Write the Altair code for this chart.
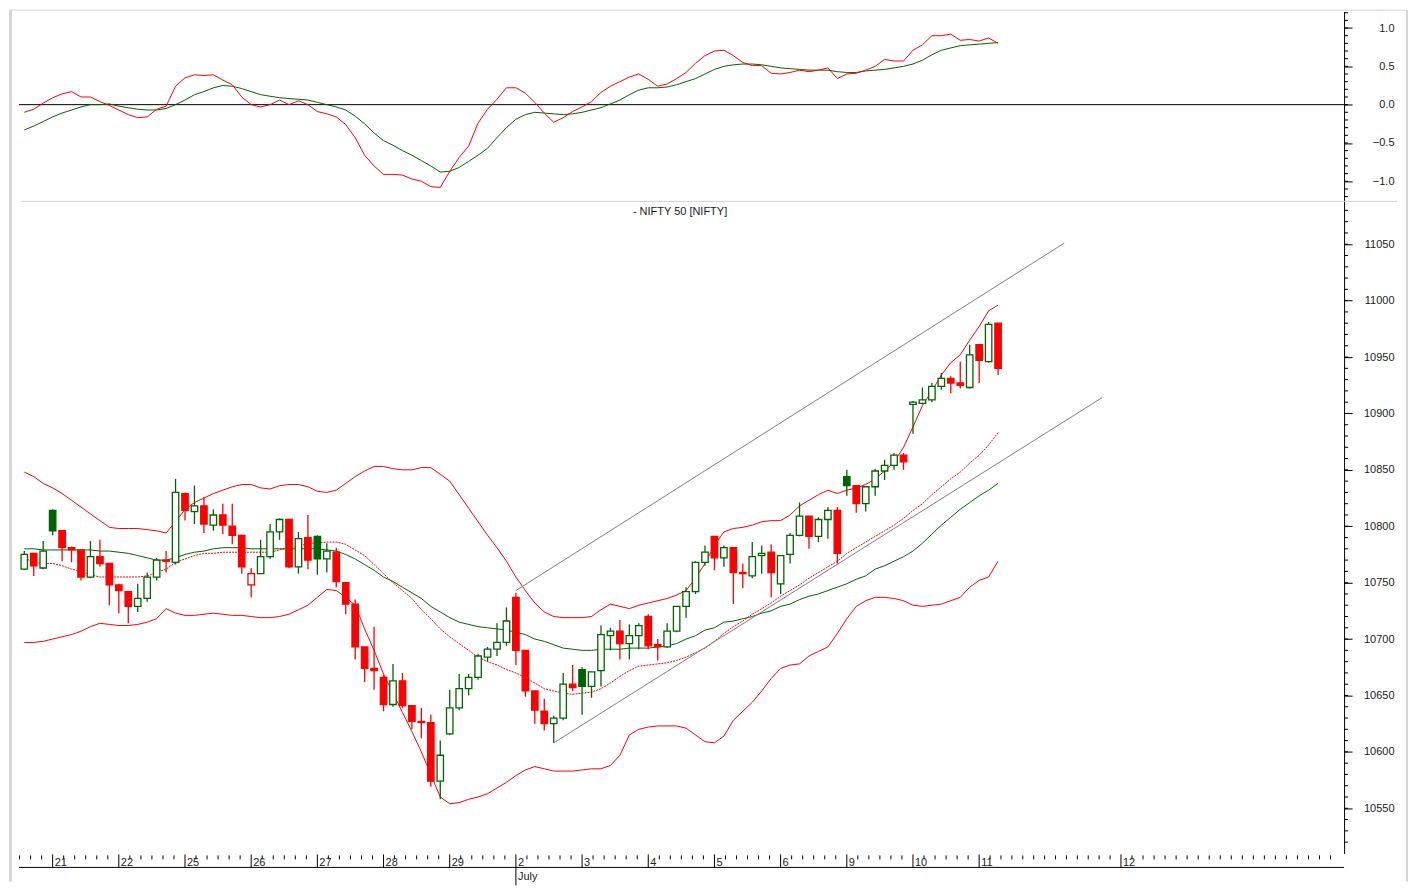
import altair as alt
import pandas as pd
import numpy as np

# ---------------- data (hourly NIFTY 50 bars, 20 Jun - 11 Jul) ----------------
opens = [10762, 10776, 10763, 10814, 10796, 10781, 10779, 10755, 10773, 10767,
         10748, 10742, 10729, 10736, 10755, 10770, 10768, 10829, 10813, 10818,
         10801, 10810, 10800, 10792, 10748, 10758, 10773, 10795, 10806, 10764,
         10790, 10791, 10771, 10777, 10750, 10731, 10693, 10674, 10666, 10642,
         10663, 10641, 10627, 10626, 10574, 10616, 10639, 10656, 10666, 10684,
         10691, 10697, 10737, 10690, 10654, 10636, 10625, 10630, 10660, 10673,
         10658, 10672, 10703, 10707, 10696, 10703, 10720, 10695, 10693, 10707,
         10729, 10742, 10768, 10791, 10772, 10781, 10759, 10756, 10774, 10777,
         10749, 10775, 10792, 10809, 10791, 10806, 10814, 10844, 10836, 10820,
         10835, 10849, 10854, 10863, 10908, 10909, 10912, 10924, 10931, 10927,
         10923, 10961, 10946, 10980]
highs = [10778, 10776, 10787, 10815, 10796, 10782, 10779, 10787, 10788, 10767,
         10749, 10742, 10749, 10759, 10772, 10778, 10842, 10830, 10836, 10826,
         10815, 10820, 10820, 10792, 10763, 10788, 10802, 10807, 10806, 10795,
         10810, 10792, 10785, 10781, 10750, 10735, 10693, 10711, 10668, 10678,
         10670, 10641, 10639, 10633, 10610, 10655, 10669, 10669, 10687, 10693,
         10714, 10728, 10741, 10690, 10654, 10647, 10632, 10670, 10677, 10675,
         10671, 10712, 10710, 10717, 10713, 10714, 10722, 10700, 10714, 10729,
         10746, 10769, 10783, 10791, 10783, 10781, 10767, 10786, 10783, 10784,
         10774, 10794, 10821, 10809, 10808, 10817, 10817, 10850, 10836, 10835,
         10851, 10859, 10865, 10865, 10911, 10923, 10927, 10936, 10933, 10946,
         10961, 10961, 10981, 10980]
lows = [10761, 10756, 10762, 10792, 10769, 10768, 10752, 10754, 10764, 10730,
        10723, 10714, 10724, 10733, 10752, 10759, 10766, 10805, 10802, 10794,
        10796, 10793, 10784, 10758, 10737, 10758, 10771, 10788, 10763, 10758,
        10762, 10757, 10759, 10746, 10722, 10682, 10662, 10655, 10636, 10640,
        10639, 10620, 10612, 10569, 10558, 10615, 10637, 10650, 10664, 10680,
        10685, 10694, 10677, 10649, 10625, 10619, 10608, 10628, 10654, 10633,
        10648, 10658, 10690, 10682, 10682, 10691, 10691, 10681, 10692, 10706,
        10719, 10740, 10765, 10761, 10764, 10731, 10745, 10754, 10758, 10737,
        10740, 10767, 10791, 10780, 10786, 10789, 10767, 10827, 10812, 10813,
        10827, 10841, 10850, 10850, 10882, 10908, 10910, 10921, 10918, 10922,
        10922, 10927, 10945, 10934]
closes = [10775, 10765, 10778, 10796, 10781, 10779, 10755, 10773, 10767, 10748,
          10743, 10729, 10736, 10755, 10770, 10769, 10830, 10814, 10818, 10802,
          10810, 10801, 10792, 10764, 10758, 10773, 10795, 10806, 10764, 10789,
          10770, 10771, 10778, 10751, 10731, 10693, 10674, 10672, 10642, 10663,
          10641, 10627, 10626, 10574, 10597, 10639, 10656, 10666, 10685, 10691,
          10697, 10716, 10690, 10654, 10637, 10625, 10630, 10660, 10657, 10658,
          10671, 10704, 10707, 10696, 10703, 10712, 10694, 10693, 10707, 10729,
          10742, 10768, 10777, 10772, 10781, 10759, 10758, 10773, 10776, 10759,
          10774, 10792, 10809, 10791, 10806, 10814, 10776, 10836, 10820, 10835,
          10849, 10854, 10863, 10857, 10910, 10912, 10924, 10931, 10927, 10925,
          10952, 10947, 10979, 10940]

bb_upper = [10848, 10844, 10838, 10834, 10829, 10823, 10817, 10811, 10805, 10799,
            10798, 10798, 10798, 10797, 10796, 10794, 10804, 10815, 10821, 10825,
            10829, 10832, 10835, 10837, 10837, 10834, 10833, 10836, 10837, 10837,
            10835, 10831, 10830, 10832, 10838, 10844, 10849, 10853, 10853, 10851,
            10850, 10850, 10852, 10852, 10846, 10840, 10828, 10816, 10804, 10792,
            10781, 10769, 10755, 10743, 10732, 10724, 10720, 10719, 10719, 10719,
            10720, 10726, 10731, 10729, 10727, 10730, 10732, 10734, 10736, 10739,
            10743, 10754, 10767, 10783, 10795, 10798, 10799, 10801, 10804, 10805,
            10805, 10810, 10818, 10823, 10828, 10832, 10829, 10832, 10834, 10837,
            10842, 10849, 10857, 10870, 10888, 10907, 10920, 10934, 10945, 10952,
            10965, 10977, 10991, 10996]
bb_middle = [10780, 10780, 10779, 10779, 10779, 10779, 10779, 10779, 10778, 10778,
             10777, 10776, 10774, 10772, 10770, 10770, 10772, 10775, 10777, 10778,
             10780, 10781, 10781, 10781, 10780, 10780, 10780, 10780, 10780, 10780,
             10780, 10780, 10779, 10778, 10775, 10771, 10766, 10761, 10755, 10751,
             10746, 10741, 10736, 10729, 10724, 10719, 10715, 10713, 10711, 10710,
             10709, 10708, 10706, 10704, 10700, 10698, 10695, 10692, 10691, 10690,
             10690, 10691, 10691, 10691, 10692, 10692, 10692, 10693, 10694, 10696,
             10700, 10703, 10708, 10710, 10715, 10716, 10718, 10720, 10723, 10725,
             10729, 10731, 10735, 10738, 10740, 10743, 10746, 10749, 10753, 10756,
             10762, 10765, 10769, 10773, 10778, 10785, 10793, 10801, 10808, 10815,
             10821, 10827, 10832, 10838]
bb_lower = [10697, 10697, 10698, 10700, 10702, 10704, 10707, 10711, 10714, 10713,
            10712, 10712, 10713, 10715, 10718, 10727, 10723, 10721, 10721, 10722,
            10723, 10722, 10721, 10721, 10720, 10719, 10719, 10720, 10722, 10726,
            10730, 10737, 10744, 10743, 10737, 10730, 10709, 10690, 10669, 10652,
            10635, 10618, 10600, 10580, 10560, 10554, 10555, 10558, 10560, 10563,
            10568, 10573, 10579, 10584, 10587, 10585, 10583, 10583, 10583, 10584,
            10585, 10585, 10588, 10597, 10615, 10620, 10622, 10623, 10623, 10623,
            10621, 10615, 10609, 10608, 10614, 10628, 10636, 10644, 10654, 10665,
            10674, 10677, 10678, 10685, 10689, 10693, 10705, 10718, 10729, 10734,
            10737, 10737, 10736, 10734, 10730, 10729, 10730, 10731, 10734, 10737,
            10746, 10752, 10755, 10769]
ma_dotted = [10772, 10768, 10767, 10767, 10765, 10762, 10760, 10757, 10755, 10755,
             10755, 10755, 10755, 10756, 10759, 10762, 10768, 10771, 10774, 10776,
             10776, 10777, 10777, 10777, 10777, 10777, 10777, 10779, 10781, 10782,
             10785, 10785, 10786, 10786, 10784, 10779, 10774, 10766, 10758, 10750,
             10743, 10736, 10726, 10718, 10709, 10702, 10696, 10690, 10684, 10680,
             10677, 10673, 10670, 10666, 10661, 10656, 10654, 10652, 10651, 10652,
             10653, 10656, 10661, 10667, 10672, 10676, 10677, 10678, 10679, 10681,
             10684, 10688, 10692, 10698, 10705, 10711, 10716, 10722, 10727, 10732,
             10738, 10743, 10748, 10754, 10759, 10764, 10769, 10776, 10781, 10786,
             10791, 10796, 10801, 10807, 10814, 10820, 10828, 10835, 10842, 10848,
             10856, 10863, 10872, 10883]

osc_fast = [-0.10, -0.06, 0.02, 0.09, 0.14, 0.17, 0.10, 0.10, 0.04, -0.01,
            -0.07, -0.13, -0.17, -0.16, -0.06, -0.02, 0.24, 0.35, 0.39, 0.38,
            0.39, 0.32, 0.26, 0.10, 0.00, -0.03, 0.00, 0.06, 0.00, 0.05,
            0.00, -0.09, -0.12, -0.16, -0.26, -0.43, -0.66, -0.80, -0.91, -0.91,
            -0.92, -0.97, -1.00, -1.07, -1.08, -0.87, -0.69, -0.54, -0.24, -0.06,
            0.07, 0.22, 0.22, 0.15, 0.03, -0.11, -0.23, -0.17, -0.09, -0.03,
            0.04, 0.16, 0.24, 0.30, 0.36, 0.40, 0.33, 0.24, 0.27, 0.34,
            0.42, 0.54, 0.64, 0.70, 0.71, 0.64, 0.55, 0.51, 0.51, 0.41,
            0.40, 0.42, 0.45, 0.43, 0.45, 0.48, 0.34, 0.40, 0.41, 0.45,
            0.50, 0.59, 0.57, 0.57, 0.71, 0.78, 0.90, 0.90, 0.92, 0.84,
            0.85, 0.83, 0.87, 0.80]
osc_slow = [-0.33, -0.28, -0.22, -0.16, -0.11, -0.07, -0.03, 0.00, 0.00, 0.01,
            -0.02, -0.04, -0.06, -0.07, -0.07, -0.05, 0.00, 0.06, 0.13, 0.17,
            0.22, 0.25, 0.24, 0.21, 0.17, 0.13, 0.11, 0.09, 0.08, 0.07,
            0.06, 0.03, 0.00, -0.03, -0.07, -0.15, -0.25, -0.37, -0.47, -0.53,
            -0.60, -0.66, -0.73, -0.80, -0.88, -0.87, -0.82, -0.74, -0.66, -0.57,
            -0.43, -0.30, -0.19, -0.13, -0.10, -0.11, -0.12, -0.13, -0.12, -0.10,
            -0.07, -0.04, 0.01, 0.06, 0.13, 0.19, 0.22, 0.22, 0.23, 0.26,
            0.30, 0.34, 0.40, 0.46, 0.50, 0.52, 0.53, 0.53, 0.52, 0.50,
            0.48, 0.47, 0.46, 0.45, 0.45, 0.45, 0.43, 0.42, 0.42, 0.44,
            0.45, 0.46, 0.48, 0.50, 0.53, 0.58, 0.65, 0.71, 0.74, 0.77,
            0.78, 0.79, 0.80, 0.81]

# trend channel drawn on the chart (bar index, price)
channel_upper_bar = [52, 110]
channel_upper_price = [10743, 11051]
channel_lower_bar = [56, 114]
channel_lower_price = [10608, 10914]

# session labels on the time axis (first hourly bar of each day)
day_labels = ["21", "22", "25", "26", "27", "28", "29", "2", "3", "4",
              "5", "6", "9", "10", "11", "12"]
day_first_bar = [3, 10, 17, 24, 31, 38, 45, 52, 59, 66, 73, 80, 87, 94, 101, 116]
month_labels = ["July"]
month_first_bar = [52]

price_ticks = [10550, 10600, 10650, 10700, 10750, 10800, 10850, 10900, 10950, 11000, 11050]
osc_ticks = [-1.0, -0.5, 0.0, 0.5, 1.0]
chart_title = "- NIFTY 50 [NIFTY]"

# ---------------- styling / geometry ----------------
W = 1327
H_OSC = 190
H_PRICE = 653
XDOM = [-0.56, 139.6]
PDOM = [10510, 11088]
ODOM = [-1.262, 1.214]
RED = "#ff0000"
GREEN = "#006400"
GRAY = "#808080"
FRAME = "#d6d6d6"
FONT = "Liberation Sans"
BARS_PER_DAY = 7
MINOR_PER_DAY = 6

n = len(opens)
df = pd.DataFrame({"bar": list(range(n)), "open": opens, "high": highs,
                   "low": lows, "close": closes})
prev_close = df["close"].shift(1).fillna(df["open"])
df["tone"] = np.where(df["close"] >= prev_close, GREEN, RED)
df["bodyfill"] = np.where(df["close"] >= df["open"], "#ffffff", df["tone"])
df["blo"] = df[["open", "close"]].min(axis=1)
df["bhi"] = df[["open", "close"]].max(axis=1)

lines = pd.DataFrame({"bar": list(range(n)), "upper": bb_upper, "middle": bb_middle,
                      "lower": bb_lower, "dotted": ma_dotted,
                      "fast": osc_fast, "slow": osc_slow})

xs = alt.Scale(domain=XDOM, nice=False, zero=False)
ps = alt.Scale(domain=PDOM, nice=False, zero=False)
os_ = alt.Scale(domain=ODOM, nice=False, zero=False)

def yaxis(values, fmt):
    return alt.Axis(orient="right", values=values, format=fmt, title=None, grid=False,
                    tickSize=8, tickColor="black", domainColor="black",
                    labelAlign="right", labelPadding=42, labelFont=FONT,
                    labelFontSize=11, labelColor="#222222", labelBaseline="middle")

PAX = yaxis(price_ticks, "d")
OAX = yaxis(osc_ticks, ".1f")
X = lambda f: alt.X(f, scale=xs, axis=None)
YP = lambda f: alt.Y(f, scale=ps, axis=PAX)
YO = lambda f: alt.Y(f, scale=os_, axis=OAX)

# ---------------- oscillator panel ----------------
zero = alt.Chart(pd.DataFrame({"z": [0.0]})).mark_rule(color="black", strokeWidth=1).encode(
    y=YO("z:Q"))
slow_line = alt.Chart(lines).mark_line(color=GREEN, strokeWidth=1).encode(
    x=X("bar:Q"), y=YO("slow:Q"))
fast_line = alt.Chart(lines).mark_line(color=RED, strokeWidth=1).encode(
    x=X("bar:Q"), y=YO("fast:Q"))
osc_minor = pd.DataFrame({"v": [round(v, 1) for v in np.arange(-1.2, 1.21, 0.1)]})
osc_minor_ticks = alt.Chart(osc_minor).mark_rule(color="black").encode(
    y=YO("v:Q"), x=alt.value(W), x2=alt.value(W + 4))
osc_panel = alt.layer(zero, slow_line, fast_line, osc_minor_ticks).properties(
    width=W, height=H_OSC)

# ---------------- price panel ----------------
separator = alt.Chart(pd.DataFrame({"a": [0]})).mark_rule(color="#cfcfcf").encode(
    x=alt.value(2), x2=alt.value(1380), y=alt.value(0))
up_band = alt.Chart(lines).mark_line(color=RED, strokeWidth=1).encode(x=X("bar:Q"), y=YP("upper:Q"))
lo_band = alt.Chart(lines).mark_line(color=RED, strokeWidth=1).encode(x=X("bar:Q"), y=YP("lower:Q"))
mid_band = alt.Chart(lines).mark_line(color=GREEN, strokeWidth=1).encode(x=X("bar:Q"), y=YP("middle:Q"))
dot_line = alt.Chart(lines).mark_line(color=RED, strokeWidth=1, strokeDash=[2, 1]).encode(
    x=X("bar:Q"), y=YP("dotted:Q"))
ch_up = alt.Chart(pd.DataFrame({"bar": channel_upper_bar, "p": channel_upper_price})).mark_line(
    color=GRAY, strokeWidth=1).encode(x=X("bar:Q"), y=YP("p:Q"))
ch_lo = alt.Chart(pd.DataFrame({"bar": channel_lower_bar, "p": channel_lower_price})).mark_line(
    color=GRAY, strokeWidth=1).encode(x=X("bar:Q"), y=YP("p:Q"))
wicks = alt.Chart(df).mark_rule(strokeWidth=1.3).encode(
    x=X("bar:Q"), y=YP("low:Q"), y2="high:Q", color=alt.Color("tone:N", scale=None))
bodies = alt.Chart(df).transform_calculate(
    x1="datum.bar - 0.34", x2="datum.bar + 0.34").mark_rect(strokeWidth=1.3).encode(
    x=X("x1:Q"), x2="x2:Q", y=YP("blo:Q"), y2="bhi:Q",
    fill=alt.Fill("bodyfill:N", scale=None), stroke=alt.Stroke("tone:N", scale=None))
title_txt = alt.Chart(pd.DataFrame({"t": [chart_title]})).mark_text(
    font=FONT, fontSize=11, color="#222222", align="center", baseline="middle").encode(
    x=alt.value(662), y=alt.value(11), text="t:N")
p_minor = pd.DataFrame({"v": list(range(PDOM[0] + 10, PDOM[1], 10))})
p_minor_ticks = alt.Chart(p_minor).mark_rule(color="black").encode(
    y=YP("v:Q"), x=alt.value(W), x2=alt.value(W + 4))

# time axis (drawn under the price panel)
step = BARS_PER_DAY / MINOR_PER_DAY
minor_x = []
k = 1
while day_first_bar[0] - k * step > XDOM[0]:
    minor_x.append(day_first_bar[0] - k * step)
    k += 1
for a, b in zip(day_first_bar[:-1], day_first_bar[1:]):
    m = max(1, round((b - a) / step))
    minor_x += [a + (b - a) * j / m for j in range(1, m)]
k = 1
while day_first_bar[-1] + k * step < XDOM[1] - 0.3:
    minor_x.append(day_first_bar[-1] + k * step)
    k += 1

days = pd.DataFrame({"bar": day_first_bar, "lab": day_labels})
months = pd.DataFrame({"bar": month_first_bar, "lab": month_labels})
AX_Y = H_PRICE + 14
x_line = alt.Chart(pd.DataFrame({"a": [0]})).mark_rule(color="black").encode(
    x=alt.value(0), x2=alt.value(W), y=alt.value(AX_Y))
x_minor = alt.Chart(pd.DataFrame({"bar": minor_x})).mark_rule(color="black").encode(
    x=X("bar:Q"), y=alt.value(H_PRICE + 2), y2=alt.value(H_PRICE + 6))
x_major = alt.Chart(days).mark_rule(color="black").encode(
    x=X("bar:Q"), y=alt.value(H_PRICE + 1), y2=alt.value(AX_Y))
x_labels = alt.Chart(days).mark_text(font=FONT, fontSize=11, color="#222222", align="left",
                                     baseline="alphabetic", dx=2).encode(
    x=X("bar:Q"), y=alt.value(AX_Y - 1), text="lab:N")
m_tick = alt.Chart(months).mark_rule(color="black").encode(
    x=X("bar:Q"), y=alt.value(AX_Y), y2=alt.value(AX_Y + 18))
m_labels = alt.Chart(months).mark_text(font=FONT, fontSize=11, color="#222222", align="left",
                                       baseline="alphabetic", dx=2).encode(
    x=X("bar:Q"), y=alt.value(AX_Y + 13), text="lab:N")

# light window frame around the whole chart
frame_left = alt.Chart(pd.DataFrame({"a": [0]})).mark_rule(color=FRAME, strokeWidth=3).encode(
    x=alt.value(-8.5), y=alt.value(-H_OSC - 1.5), y2=alt.value(H_PRICE + 28))
frame_top = alt.Chart(pd.DataFrame({"a": [0]})).mark_rule(color=FRAME, strokeWidth=1).encode(
    x=alt.value(-10), x2=alt.value(1390), y=alt.value(-H_OSC - 1.5))
frame_right = alt.Chart(pd.DataFrame({"a": [0]})).mark_rule(color=FRAME, strokeWidth=2).encode(
    x=alt.value(1390), y=alt.value(-H_OSC - 1.5), y2=alt.value(H_PRICE + 28))

price_panel = alt.layer(
    separator, up_band, lo_band, mid_band, dot_line, ch_up, ch_lo, wicks, bodies,
    title_txt, p_minor_ticks, x_line, x_minor, x_major, x_labels, m_tick, m_labels,
    frame_left, frame_top, frame_right
).properties(width=W, height=H_PRICE)

chart = alt.vconcat(osc_panel, price_panel, spacing=0, bounds="flush").properties(
    padding=0).configure_view(stroke=None)

chart.save("out.html", embed_options={"renderer": "svg", "actions": False})
